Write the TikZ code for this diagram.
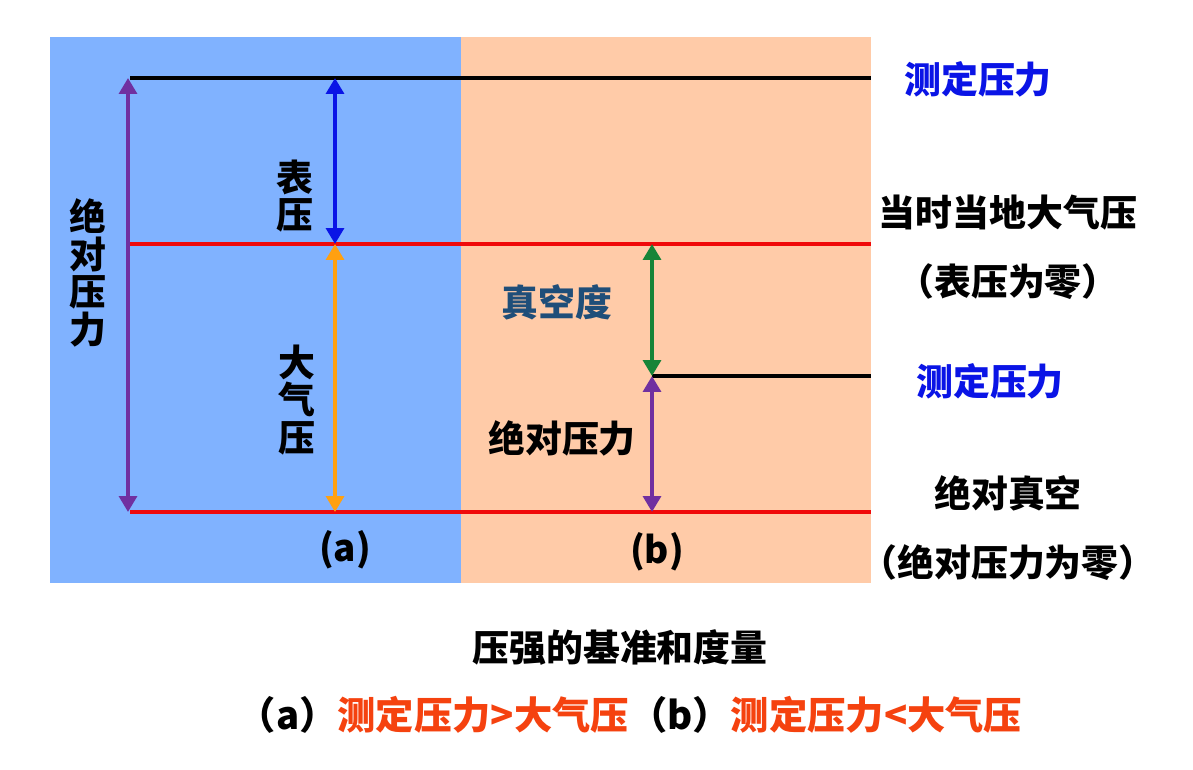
\documentclass[tikz,border=0pt]{standalone}
\usepackage{fontspec}
\setmainfont{Noto Sans CJK SC}
\usetikzlibrary{arrows.meta}
\definecolor{bgblue}{HTML}{80B2FF}
\definecolor{bgpeach}{HTML}{FFCBA8}
\definecolor{lvred}{HTML}{F00A0A}
\definecolor{absviolet}{HTML}{7030A0}
\definecolor{atmorange}{HTML}{FFA010}
\definecolor{gaugeblue}{HTML}{0A14E6}
\definecolor{vacgreen}{HTML}{168438}
\definecolor{vactext}{HTML}{1F4E79}
\definecolor{cmpred}{HTML}{F5420F}

\begin{document}
\begin{tikzpicture}[x=0.02cm,y=-0.02cm,line width=2.3pt,>={Triangle[length=9pt,width=10pt]},
  lbl/.style={font=\fontsize{21}{21.5}\selectfont\bfseries,inner sep=0pt,align=center},
  level/.style={line width=2.8pt}]
  \useasboundingbox (0,0) rectangle (1193,770);
  \fill[white] (0,0) rectangle (1193,770);
  % fondos (a) y (b)
  \fill[bgblue] (50,37) rectangle (461,583);
  \fill[bgpeach] (461,37) rectangle (871,583);
  % niveles de presion
  \coordinate (topL) at (130,78);   \coordinate (topR) at (871,78);
  \coordinate (atmL) at (130,244);  \coordinate (atmR) at (871,244);
  \coordinate (vacL) at (130,512);  \coordinate (vacR) at (871,512);
  \coordinate (lowL) at (652,376);  \coordinate (lowR) at (871,376);
  \draw[level,black] (topL)--(topR);
  \draw[level,lvred] (atmL)--(atmR);
  \draw[level,lvred] (vacL)--(vacR);
  \draw[level,black] (lowL)--(lowR);
  % flechas
  \coordinate (absT) at (128,78);  \coordinate (absB) at (128,512);
  \coordinate (gT) at (335,78);    \coordinate (gM) at (335,244);  \coordinate (gB) at (335,512);
  \coordinate (vT) at (652,244);   \coordinate (vB) at (652,512);
  \draw[<->,absviolet] (absT)--(absB);
  \draw[<->,gaugeblue] (gT)--(gM);
  \draw[<->,atmorange] (gM)--(gB);
  \draw[<->,vacgreen] (vT)--(lowL);
  \draw[<->,absviolet] (lowL)--(vB);
  % rotulos
  \node[lbl] (absA) at (88,273) {绝\\对\\压\\力};
  \node[lbl] (gauge) at (295,196) {表\\压};
  \node[lbl] (atm) at (297,400) {大\\气\\压};
  \node[lbl,vactext] (vac) at (557,302) {真空度};
  \node[lbl] (absB2) at (562,438) {绝对压力};
  \node[lbl] (la) at (345,550) {(a)};
  \node[lbl] (lb) at (657,552) {(b)};
  \node[lbl,gaugeblue] (meas1) at (978,79) {测定压力};
  \node[lbl] (atmR1) at (1008,213) {当时当地大气压};
  \node[lbl] (atmR2) at (1008,282) {（表压为零）};
  \node[lbl,gaugeblue] (meas2) at (990,381) {测定压力};
  \node[lbl] (vacR1) at (1008,493) {绝对真空};
  \node[lbl] (vacR2) at (1008,563) {（绝对压力为零）};
  \node[lbl] (title) at (620,648) {压强的基准和度量};
  \node[lbl,font=\fontsize{21.8}{22}\selectfont\bfseries] (cmp) at (630,715) {（a）\textcolor{cmpred}{测定压力>大气压}（b）\textcolor{cmpred}{测定压力<大气压}};
\end{tikzpicture}
\end{document}
